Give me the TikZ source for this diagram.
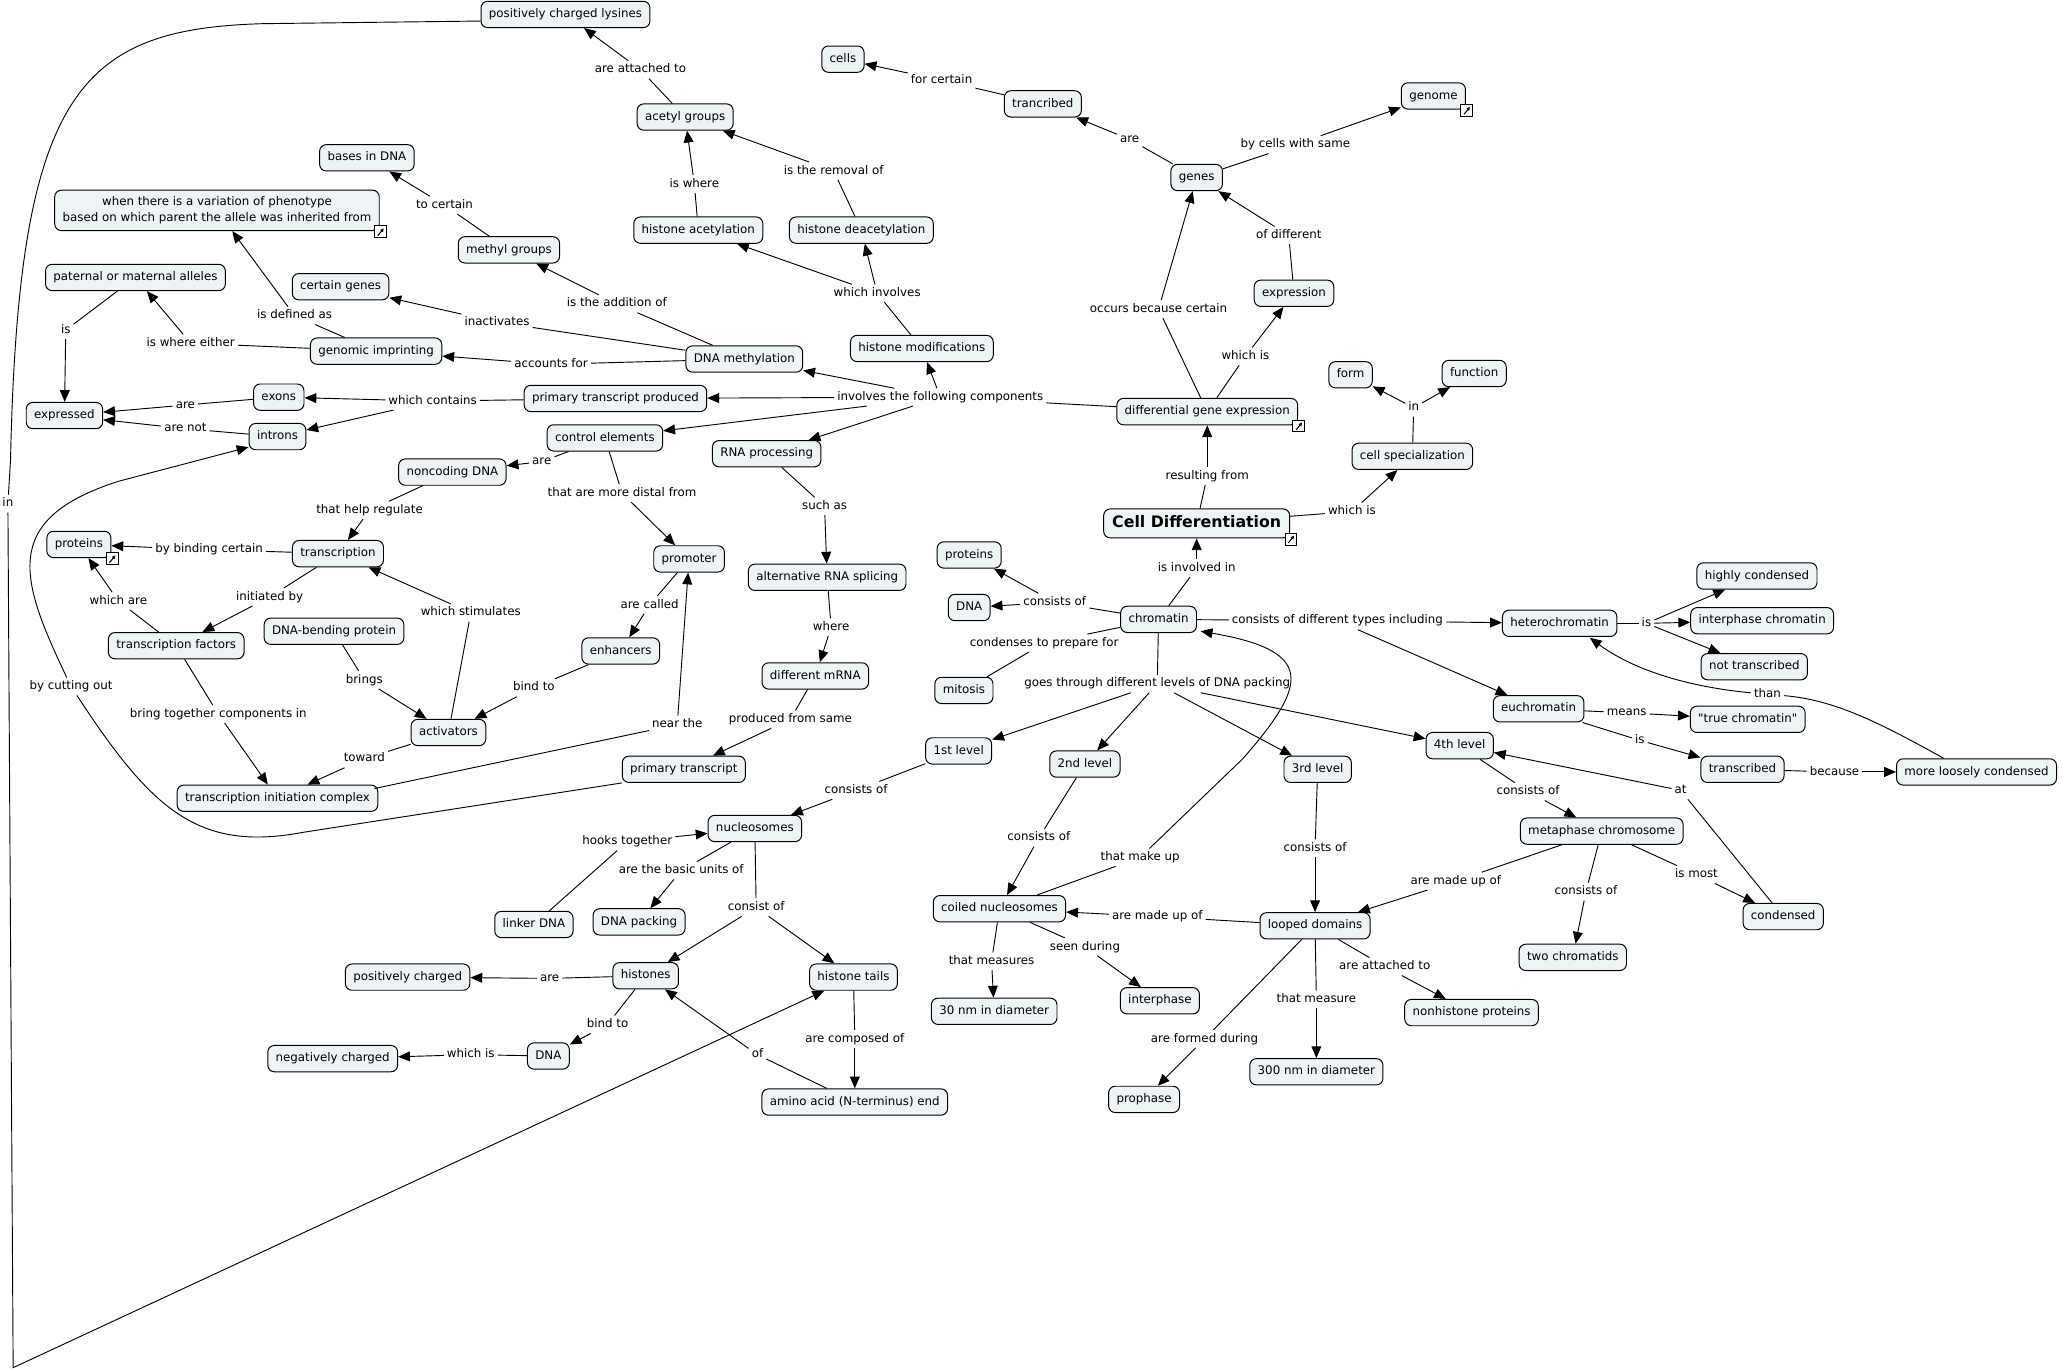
\documentclass[tikz,border=0pt]{standalone}
\usepackage{fontspec}
\setmainfont{DejaVu Sans}
\newfontfamily\nqfont{DejaVu Sans}
\usetikzlibrary{arrows.meta,calc}
\definecolor{cfill}{RGB}{238,243,245}
\newcommand{\cmlk}[3]{\draw[ln] (#1) -- (#2); \draw[ar] (#2) -- (#3);}
\newcommand{\cmar}[2]{\draw[ar] (#1) -- (#2);}
\newcommand{\cmln}[2]{\draw[ln] (#1) -- (#2);}
\newcommand{\lnkicon}[1]{%
  \draw[line width=0.6pt, fill=white] ($(#1.south east)+(-4,-4)$) rectangle ++(9,9);
  \draw[line width=0.8pt, -{Triangle[length=2.6pt,width=2.6pt]}] ($(#1.south east)+(-1.5,3.5)$) -- ($(#1.south east)+(3,-2)$);}
\begin{document}
\begin{tikzpicture}[x=1pt,y=-1pt,
  cb/.style={draw=black, line width=0.75pt, fill=cfill, rounded corners=5pt,
    font=\fontsize{9pt}{12pt}\selectfont, inner xsep=6pt, inner ysep=5pt},
  cn/.style={cb, inner ysep=5.6pt, text height=6.8pt, text depth=2pt},
  lp/.style={font=\fontsize{9pt}{11pt}\selectfont, inner sep=2.2pt, text height=6.8pt, text depth=2pt},
  ln/.style={line width=0.7pt},
  ar/.style={line width=0.7pt, -{Triangle[length=9pt,width=7.5pt]}}]
\useasboundingbox (0,0) rectangle (1568,1043);

% ---------------- concepts
\node[cn] (lys) at (430,11) {positively charged lysines};
\node[cn] (acetyl) at (521,89) {acetyl groups};
\node[cn] (cells) at (641,45) {cells};
\node[cn] (trcb) at (793,79) {trancribed};
\node[cn] (genome) at (1090,73) {genome};
\node[cn] (genes) at (910,135) {genes};
\node[cn] (bases) at (279,120) {bases in DNA};
\node[cb, align=center] (pheno) at (165,160) {when there is a variation of phenotype\\based on which parent the allele was inherited from};
\node[cn] (methyl) at (387,190) {methyl groups};
\node[cn] (hacet) at (531,175) {histone acetylation};
\node[cn] (hdeac) at (655,175) {histone deacetylation};
\node[cn] (expr) at (984,223) {expression};
\node[cn] (patern) at (103,211) {paternal or maternal alleles};
\node[cn] (certg) at (259,218) {certain genes};
\node[cn] (gimp) at (286,267) {genomic imprinting};
\node[cn] (dnam) at (566,273) {DNA methylation};
\node[cn] (hmod) at (701,265) {histone modifications};
\node[cn] (form) at (1027,285) {form};
\node[cn] (func) at (1121,284) {function};
\node[cn] (dge) at (918,313) {differential gene expression};
\node[cn] (exons) at (212,302) {exons};
\node[cn] (exprd) at (49,316) {expressed};
\node[cn] (introns) at (211,332) {introns};
\node[cn] (ptp) at (468,303) {primary transcript produced};
\node[cn] (ctrl) at (460,333) {control elements};
\node[cn] (rnap) at (583,345) {RNA processing};
\node[cn] (cspec) at (1074,347) {cell specialization};
\node[cn] (noncod) at (344,359) {noncoding DNA};
\node[cn, font=\bfseries\fontsize{12pt}{14pt}\selectfont, text height=8.6pt, text depth=2.4pt, inner ysep=5.5pt, inner xsep=6.5pt] (cdiff) at (910,398) {Cell Differentiation};
\node[cn] (protL) at (60,414) {proteins};
\node[cn] (transc) at (257,421) {transcription};
\node[cn] (prom) at (524,425) {promoter};
\node[cn] (protR) at (737,422) {proteins};
\node[cn] (altsp) at (629,439) {alternative RNA splicing};
\node[cn] (dnaR) at (737,462) {DNA};
\node[cn] (chrom) at (881,471) {chromatin};
\node[cn] (highc) at (1336,438) {highly condensed};
\node[cn] (hetero) at (1186,474) {heterochromatin};
\node[cn] (interc) at (1340,472) {interphase chromatin};
\node[cn] (nottr) at (1334,507) {not transcribed};
\node[cn] (tfac) at (134,491) {transcription factors};
\node[cn] (dnabend) at (254,480) {DNA-bending protein};
\node[cn] (enh) at (472,495) {enhancers};
\node[cn] (mitosis) at (733,525) {mitosis};
\node[cn] (dmrna) at (620,514) {different mRNA};
\node[cn] (euchr) at (1170,539) {euchromatin};
\node[cn, font=\nqfont\fontsize{9pt}{12pt}\selectfont] (truec) at (1329,547) {"true chromatin"};
\node[cn] (activ) at (341,557) {activators};
\node[cn] (lev1) at (729,571) {1st level};
\node[cn] (lev2) at (825,581) {2nd level};
\node[cn] (lev3) at (1002,585) {3rd level};
\node[cn] (lev4) at (1110,567) {4th level};
\node[cn] (transcd) at (1325,585) {transcribed};
\node[cn] (mlc) at (1503,587) {more loosely condensed};
\node[cn] (primt) at (520,585) {primary transcript};
\node[cn] (tic) at (211,607) {transcription initiation complex};
\node[cn] (nucl) at (574,630) {nucleosomes};
\node[cn] (metaph) at (1218,632) {metaphase chromosome};
\node[cn] (linker) at (406,703) {linker DNA};
\node[cn] (dnapack) at (486,701) {DNA packing};
\node[cn] (coiled) at (760,691) {coiled nucleosomes};
\node[cn] (looped) at (1000,704) {looped domains};
\node[cn] (cond) at (1356,697) {condensed};
\node[cn] (twoch) at (1196,728) {two chromatids};
\node[cn] (poschg) at (310,743) {positively charged};
\node[cn] (histones) at (491,742) {histones};
\node[cn] (htails) at (649,743) {histone tails};
\node[cn] (nm30) at (756,769) {30 nm in diameter};
\node[cn] (interph) at (882,761) {interphase};
\node[cn] (nonhist) at (1119,770) {nonhistone proteins};
\node[cn] (negchg) at (253,805) {negatively charged};
\node[cn] (dnaB) at (417,803) {DNA};
\node[cn] (prophase) at (870,836) {prophase};
\node[cn] (nm300) at (1001,815) {300 nm in diameter};
\node[cn] (amino) at (650,838) {amino acid (N-terminus) end};

\lnkicon{pheno}
\lnkicon{protL}
\lnkicon{genome}
\lnkicon{dge}
\lnkicon{cdiff}

% ---------------- linking phrases
\node[lp] (a1) at (487,53) {are attached to};
\node[lp] (a2) at (528,140) {is where};
\node[lp] (a3) at (634,130) {is the removal of};
\node[lp] (a4) at (716,61) {for certain};
\node[lp] (a5) at (859,106) {are};
\node[lp] (a6) at (985,110) {by cells with same};
\node[lp] (a7) at (980,179) {of different};
\node[lp] (a8) at (881,235) {occurs because certain};
\node[lp] (a9) at (947,271) {which is};
\node[lp] (a10) at (338,156) {to certain};
\node[lp] (a11) at (469,231) {is the addition of};
\node[lp] (a12) at (378,245) {inactivates};
\node[lp] (a13) at (224,240) {is defined as};
\node[lp] (a14) at (145,261) {is where either};
\node[lp] (a15) at (50,251) {is};
\node[lp] (a16) at (419,277) {accounts for};
\node[lp] (a17) at (667,223) {which involves};
\node[lp] (a18) at (715,302) {involves the following components};
\node[lp] (a19) at (329,305) {which contains};
\node[lp] (a20) at (141,308) {are};
\node[lp] (a21) at (141,326) {are not};
\node[lp] (a22) at (1075,310) {in};
\node[lp] (a23) at (918,362) {resulting from};
\node[lp] (a24) at (1028,389) {which is};
\node[lp] (a25) at (412,351) {are};
\node[lp] (a26) at (473,375) {that are more distal from};
\node[lp] (a27) at (281,388) {that help regulate};
\node[lp] (a28) at (159,418) {by binding certain};
\node[lp] (a29) at (205,454) {initiated by};
\node[lp] (a30) at (90,457) {which are};
\node[lp] (a31) at (358,466) {which stimulates};
\node[lp] (a32) at (494,460) {are called};
\node[lp] (a33) at (277,517) {brings};
\node[lp] (a34) at (406,523) {bind to};
\node[lp] (a35) at (166,543) {bring together components in};
\node[lp] (a36) at (277,577) {toward};
\node[lp] (a37) at (515,551) {near the};
\node[lp] (a38) at (627,385) {such as};
\node[lp] (a39) at (632,477) {where};
\node[lp] (a40) at (601,547) {produced from same};
\node[lp] (a41) at (54,522) {by cutting out};
\node[lp] (a42) at (910,432) {is involved in};
\node[lp] (a43) at (802,458) {consists of};
\node[lp] (a44) at (794,489) {condenses to prepare for};
\node[lp] (a45) at (1017,472) {consists of different types including};
\node[lp] (a46) at (880,520) {goes through different levels of DNA packing};
\node[lp] (a47) at (1252,474) {is};
\node[lp] (a48) at (1237,542) {means};
\node[lp] (a49) at (1247,563) {is};
\node[lp] (a50) at (1395,587) {because};
\node[lp] (a51) at (1344,528) {than};
\node[lp] (a52) at (651,601) {consists of};
\node[lp] (a53) at (790,637) {consists of};
\node[lp] (a54) at (1000,645) {consists of};
\node[lp] (a55) at (1162,602) {consists of};
\node[lp] (a56) at (477,640) {hooks together};
\node[lp] (a57) at (518,662) {are the basic units of};
\node[lp] (a58) at (575,690) {consist of};
\node[lp] (a59) at (1107,670) {are made up of};
\node[lp] (a60) at (1206,678) {consists of};
\node[lp] (a61) at (1290,665) {is most};
\node[lp] (a62) at (1278,601) {at};
\node[lp] (a63) at (880,697) {are made up of};
\node[lp] (a64) at (754,731) {that measures};
\node[lp] (a65) at (825,720) {seen during};
\node[lp] (a66) at (867,652) {that make up};
\node[lp] (a67) at (916,790) {are formed during};
\node[lp] (a68) at (1001,760) {that measure};
\node[lp] (a69) at (1053,735) {are attached to};
\node[lp] (a70) at (418,744) {are};
\node[lp] (a71) at (462,779) {bind to};
\node[lp] (a72) at (358,802) {which is};
\node[lp] (a73) at (650,790) {are composed of};
\node[lp] (a74) at (576,802) {of};
\node[lp] (a75) at (6,383) {in};

% ---------------- connectors
\cmlk{acetyl}{a1}{lys}
\cmlk{hacet}{a2}{acetyl}
\cmlk{hdeac}{a3}{acetyl}
\cmlk{trcb}{a4}{cells}
\cmlk{genes}{a5}{trcb}
\cmlk{genes}{a6}{genome}
\cmlk{expr}{a7}{genes}
\cmlk{dge}{a8}{genes}
\cmlk{dge}{a9}{expr}
\cmlk{methyl}{a10}{bases}
\cmlk{dnam}{a11}{methyl}
\cmlk{dnam}{a12}{certg}
\cmlk{gimp}{a13}{pheno}
\cmlk{gimp}{a14}{patern}
\cmlk{patern}{a15}{exprd}
\cmlk{dnam}{a16}{gimp}
\cmlk{hmod}{a17}{hacet} \cmar{a17}{hdeac}
\cmlk{dge}{a18}{hmod} \cmar{a18}{dnam} \cmar{a18}{ptp} \cmar{a18}{ctrl} \cmar{a18}{rnap}
\cmlk{ptp}{a19}{exons} \cmar{a19}{introns}
\cmlk{exons}{a20}{exprd}
\cmlk{introns}{a21}{exprd}
\cmlk{cspec}{a22}{form} \cmar{a22}{func}
\cmlk{cdiff}{a23}{dge}
\cmlk{cdiff}{a24}{cspec}
\cmlk{ctrl}{a25}{noncod}
\cmlk{ctrl}{a26}{prom}
\cmlk{noncod}{a27}{transc}
\cmlk{transc}{a28}{protL}
\cmlk{transc}{a29}{tfac}
\cmlk{tfac}{a30}{protL}
\cmlk{activ}{a31}{transc}
\cmlk{prom}{a32}{enh}
\cmlk{dnabend}{a33}{activ}
\cmlk{enh}{a34}{activ}
\cmlk{tfac}{a35}{tic}
\cmlk{activ}{a36}{tic}
\draw[ln] ($(tic.north east)+(-3,3)$) -- (a37);
\cmar{a37}{prom}
\cmlk{rnap}{a38}{altsp}
\cmlk{altsp}{a39}{dmrna}
\cmlk{dmrna}{a40}{primt}
% by cutting out
\draw[ln] (primt.south west) -- (230,633) .. controls (150,648) and (115,615) .. (a41);
\draw[ar] (a41) .. controls (15,440) and (0,395) .. (90,366) -- (189,340);
\cmlk{chrom}{a42}{cdiff}
\cmlk{chrom}{a43}{protR} \cmar{a43}{dnaR}
\cmln{chrom}{a44} \cmln{a44}{mitosis}
\cmlk{chrom}{a45}{hetero} \cmar{a45}{euchr}
\cmlk{chrom}{a46}{lev1} \cmar{a46}{lev2} \cmar{a46}{lev3} \cmar{a46}{lev4}
\cmlk{hetero}{a47}{highc} \cmar{a47}{interc} \cmar{a47}{nottr}
\cmlk{euchr}{a48}{truec}
\cmlk{euchr}{a49}{transcd}
\cmlk{transcd}{a50}{mlc}
% than
\draw[ln] ($(mlc.north)+(-25,0)$) .. controls (1430,550) and (1395,532) .. (a51);
\draw[ar] (a51) .. controls (1280,522) and (1240,508) .. (1209,485);
\cmlk{lev1}{a52}{nucl}
\cmlk{lev2}{a53}{coiled}
\cmlk{lev3}{a54}{looped}
\cmlk{lev4}{a55}{metaph}
\cmlk{linker}{a56}{nucl}
\cmlk{nucl}{a57}{dnapack}
\cmlk{nucl}{a58}{histones} \cmar{a58}{htails}
\cmlk{metaph}{a59}{looped}
\cmlk{metaph}{a60}{twoch}
\cmlk{metaph}{a61}{cond}
\cmlk{cond}{a62}{lev4}
\cmlk{looped}{a63}{coiled}
\cmlk{coiled}{a64}{nm30}
\cmlk{coiled}{a65}{interph}
% that make up
\cmln{coiled}{a66}
\draw[ar] (a66) -- (945,577) .. controls (995,520) and (1000,495) .. (913,480);
\cmlk{looped}{a67}{prophase}
\cmlk{looped}{a68}{nm300}
\cmlk{looped}{a69}{nonhist}
\cmlk{histones}{a70}{poschg}
\cmlk{histones}{a71}{dnaB}
\cmlk{dnaB}{a72}{negchg}
\cmlk{htails}{a73}{amino}
\cmlk{amino}{a74}{histones}
% in
\draw[ln] ($(lys.west)+(0,5)$) -- (200,18) .. controls (60,22) and (14,70) .. (8,350) -- (a75);
\draw[ar] (a75) -- (10,1040) -- (htails);
\end{tikzpicture}
\end{document}
